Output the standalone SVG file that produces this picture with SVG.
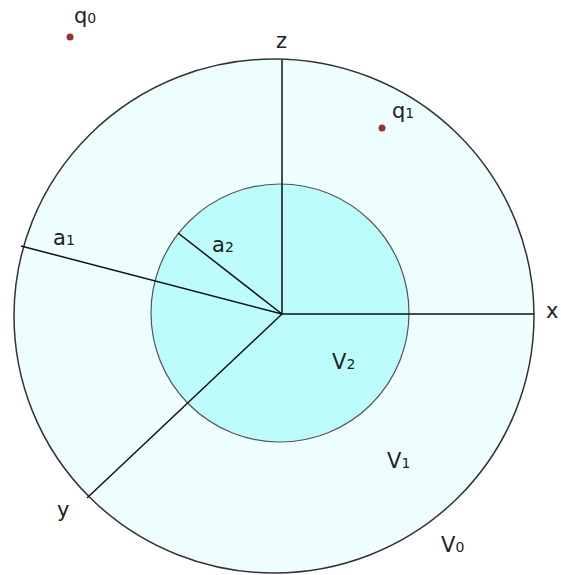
<svg xmlns="http://www.w3.org/2000/svg" width="561" height="575" viewBox="0 0 561 575">
<style>
.lbl{font-family:"DejaVu Sans","Verdana",sans-serif;font-size:21px;fill:#222}
.sub{font-size:14px}
.ln{stroke:#111;stroke-width:1.5;fill:none}
.dot{fill:#993333}
</style>
<rect width="561" height="575" fill="#ffffff"/>
<g id="V0">
<ellipse cx="274" cy="316" rx="260" ry="257" fill="#eefefe" stroke="#333" stroke-width="1.5"/>
</g>
<g id="V2">
<circle cx="280" cy="313" r="129" fill="#bdfcfc" stroke="#555" stroke-width="1.2"/>
</g>
<g id="connectors">
<line class="ln" x1="282" y1="314" x2="282" y2="60"/>
<line class="ln" x1="282" y1="314" x2="534" y2="314"/>
<line class="ln" x1="282" y1="314" x2="21" y2="246"/>
<line class="ln" x1="282" y1="314" x2="178" y2="233"/>
<line class="ln" x1="282" y1="314" x2="87" y2="498"/>
</g>
<g id="q0">
<circle class="dot" cx="70" cy="37" r="3.5"/>
<text class="lbl" x="74" y="23">q<tspan class="sub">0</tspan></text>
</g>
<g id="q1">
<circle class="dot" cx="382" cy="128" r="3.5"/>
<text class="lbl" x="392" y="118">q<tspan class="sub">1</tspan></text>
</g>
<g id="labels">
<text class="lbl" x="546" y="318">x</text>
<text class="lbl" x="276" y="48">z</text>
<text class="lbl" x="57" y="517">y</text>
<text class="lbl" x="53" y="245">a<tspan class="sub">1</tspan></text>
<text class="lbl" x="212" y="252">a<tspan class="sub">2</tspan></text>
<text class="lbl" x="332" y="369">V<tspan class="sub">2</tspan></text>
<text class="lbl" x="387" y="468">V<tspan class="sub">1</tspan></text>
<text class="lbl" x="441" y="552">V<tspan class="sub">0</tspan></text>
</g>
</svg>
